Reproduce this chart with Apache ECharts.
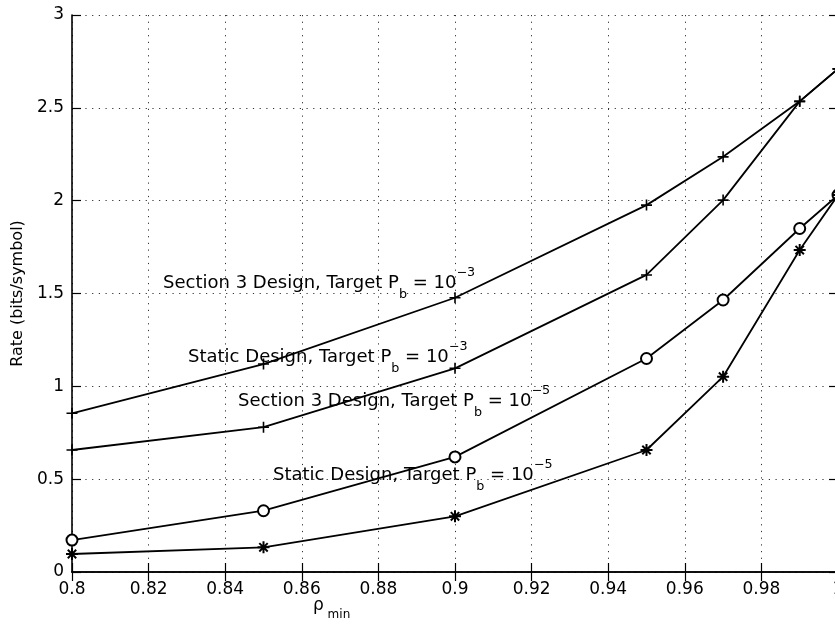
<!DOCTYPE html>
<html>
<head>
<meta charset="utf-8">
<script src="https://cdn.jsdelivr.net/npm/echarts@6/dist/echarts.min.js"></script>
<style>
html,body{margin:0;padding:0;background:#fff;}
#chart{width:835px;height:632px;}
</style>
</head>
<body>
<div id="chart"></div>
<script>
const xValues = [0.8, 0.85, 0.9, 0.95, 0.97, 0.99, 1.0];
const sec3Pb3 = [0.855, 1.12, 1.477, 1.976, 2.236, 2.535, 2.71];
const staticPb3 = [0.657, 0.78, 1.097, 1.60, 2.003, 2.535, 2.71];
const sec3Pb5 = [0.172, 0.33, 0.62, 1.15, 1.465, 1.85, 2.03];
const staticPb5 = [0.097, 0.133, 0.30, 0.657, 1.052, 1.734, 2.03];

const seriesNames = [
  'Section 3 Design, Target Pb = 10^-3',
  'Static Design, Target Pb = 10^-3',
  'Section 3 Design, Target Pb = 10^-5',
  'Static Design, Target Pb = 10^-5'
];

const FONT = 'DejaVu Sans';
const plusSym = 'path://M0,5L10,5M5,0L5,10';
const starSym = 'path://M0,5L10,5M5,0L5,10M1.5,1.5L8.5,8.5M1.5,8.5L8.5,1.5';

function pairs(arr) { return xValues.map((x, i) => [x, arr[i]]); }

function mkSeries(name, arr, symbol, size, bw) {
  return {
    name: name,
    type: 'line',
    data: pairs(arr),
    symbol: symbol,
    symbolSize: size,
    showAllSymbol: true,
    clip: false,
    lineStyle: { color: '#000', width: 1.8 },
    itemStyle: { color: '#000', borderColor: '#000', borderWidth: bw },
    emphasis: { disabled: true },
    animation: false,
    z: 5
  };
}

const rich = {
  m: { fontFamily: FONT, fontSize: 17, lineHeight: 34, color: '#000', verticalAlign: 'middle' },
  s: { fontFamily: FONT, fontSize: 12, lineHeight: 14, color: '#000', verticalAlign: 'bottom' },
  p: { fontFamily: FONT, fontSize: 12, lineHeight: 19, color: '#000', verticalAlign: 'top' }
};

function annot(prefix, exp, x, y) {
  return {
    type: 'text',
    x: x, y: y,
    scaleX: 1.06,
    z: 10,
    style: {
      text: '{m|' + prefix + ' Target P}{s|b}{m| = 10}{p|\u2212' + exp + '}',
      rich: rich,
      verticalAlign: 'middle',
      align: 'left'
    }
  };
}

const chart = echarts.init(document.getElementById('chart'), null, { renderer: 'canvas' });

const axisCommon = {
  axisLine: { show: true, lineStyle: { color: '#000', width: 1.6 } },
  axisTick: { show: true, inside: true, length: 9, lineStyle: { color: '#000', width: 1.2 } }
};

chart.setOption({
  backgroundColor: '#fff',
  animation: false,
  grid: { left: 72, top: 15, width: 766, height: 557, containLabel: false, outerBoundsMode: 'none' },
  xAxis: [
    Object.assign({
      type: 'value', min: 0.8, max: 1.0, interval: 0.02, position: 'bottom',
      axisLabel: {
        color: '#000', fontFamily: FONT, fontSize: 17, margin: 9,
        formatter: v => String(+v.toFixed(2))
      },
      splitLine: { show: true, lineStyle: { color: '#333', width: 1, type: [1.2, 5.5] } }
    }, axisCommon),
    Object.assign({
      type: 'value', min: 0.8, max: 1.0, interval: 0.02, position: 'top',
      axisLabel: { show: false }, splitLine: { show: false }
    }, axisCommon)
  ],
  yAxis: [
    Object.assign({
      type: 'value', min: 0, max: 3, interval: 0.5, position: 'left',
      name: 'Rate (bits/symbol)', nameLocation: 'middle', nameGap: 29, nameRotate: 90,
      nameTextStyle: { color: '#000', fontFamily: FONT, fontSize: 16 },
      axisLabel: {
        color: '#000', fontFamily: FONT, fontSize: 17, margin: 8,
        formatter: v => String(+v.toFixed(1))
      },
      splitLine: { show: true, lineStyle: { color: '#333', width: 1, type: [1.2, 5.5] } }
    }, axisCommon),
    Object.assign({
      type: 'value', min: 0, max: 3, interval: 0.5, position: 'right',
      axisLabel: { show: false }, splitLine: { show: false }
    }, axisCommon)
  ],
  series: [
    mkSeries(seriesNames[0], sec3Pb3, plusSym, 11, 1.6),
    mkSeries(seriesNames[1], staticPb3, plusSym, 11, 1.6),
    mkSeries(seriesNames[2], sec3Pb5, 'emptyCircle', 11, 1.4),
    mkSeries(seriesNames[3], staticPb5, starSym, 12, 2)
  ],
  graphic: [
    annot('Section 3 Design,', '3', 163, 284),
    annot('Static Design,', '3', 188, 358),
    annot('Section 3 Design,', '5', 238, 402),
    annot('Static Design,', '5', 273, 476),
    {
      type: 'text', x: 313, y: 606, z: 10,
      style: {
        text: '{r|\u03c1}{s| min}',
        rich: {
          r: { fontFamily: FONT, fontSize: 17, lineHeight: 30, color: '#000', verticalAlign: 'middle' },
          s: { fontFamily: FONT, fontSize: 12, lineHeight: 12, color: '#000', verticalAlign: 'bottom' }
        },
        verticalAlign: 'middle', align: 'left'
      }
    }
  ]
});
</script>
</body>
</html>
